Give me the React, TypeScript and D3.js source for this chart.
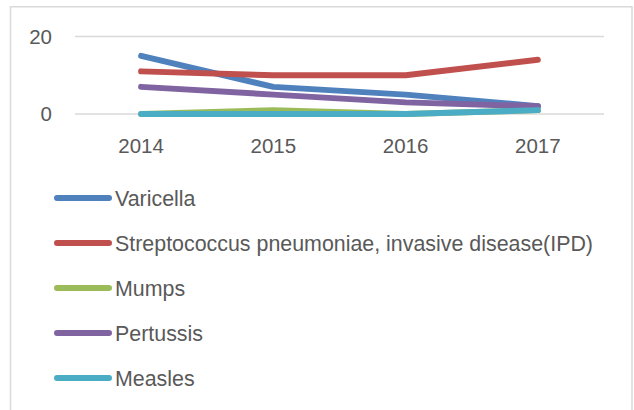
import React from "react";
import * as d3 from "d3";

const years = ["2014", "2015", "2016", "2017"];
const seriesNames = [
  "Varicella",
  "Streptococcus pneumoniae, invasive disease(IPD)",
  "Mumps",
  "Pertussis",
  "Measles",
];
const varicella = [15, 7, 5, 2];
const ipd = [11, 10, 10, 14];
const mumps = [0, 1, 0, 1];
const pertussis = [7, 5, 3, 2];
const measles = [0, 0, 0, 1];
const colors = ["#4F81BD", "#C0504D", "#9BBB59", "#8064A2", "#4BACC6"];
const yTicks = [0, 20];

const W = 634;
const H = 410;
const FONT = "'Liberation Sans', Arial, sans-serif";
const TEXT = "#595959";

export default function App() {
  const seriesValues = [varicella, ipd, mumps, pertussis, measles];
  const x = d3.scaleBand<string>().domain(years).range([75, 604]);
  const y = d3.scaleLinear().domain([0, 20]).range([114, 36.5]);
  const cx = (d: string) => (x(d) as number) + x.bandwidth() / 2;
  const line = d3
    .line<number>()
    .x((_, i) => cx(years[i]))
    .y((v) => y(v));

  const legendY = d3.scalePoint<string>().domain(seriesNames).range([198, 378]);

  return (
    <div style={{ position: "absolute", left: 0, top: 0 }}>
      <svg width={W} height={H} style={{ display: "block", background: "#fff" }}>
        <rect x={10.5} y={6.75} width={621.5} height={430} fill="#fff" stroke="#d9d9d9" strokeWidth={1.5} />
        {yTicks.map((t) => (
          <g key={t}>
            <line x1={75} x2={604} y1={y(t)} y2={y(t)} stroke="#d9d9d9" strokeWidth={1.3} />
            <text
              x={52}
              y={y(t) + 7}
              textAnchor="end"
              fontFamily={FONT}
              fontSize={20.5}
              fill={TEXT}
            >
              {t}
            </text>
          </g>
        ))}
        {years.map((yr) => (
          <text
            key={yr}
            x={cx(yr)}
            y={153}
            textAnchor="middle"
            fontFamily={FONT}
            fontSize={20.5}
            fill={TEXT}
          >
            {yr}
          </text>
        ))}
        {seriesValues.map((vals, i) => (
          <path
            key={seriesNames[i]}
            d={line(vals) || ""}
            fill="none"
            stroke={colors[i]}
            strokeWidth={6}
            strokeLinecap="round"
            strokeLinejoin="round"
          />
        ))}
        {seriesNames.map((name, i) => {
          const ly = legendY(name) as number;
          return (
            <g key={name}>
              <line
                x1={57}
                x2={109}
                y1={ly}
                y2={ly}
                stroke={colors[i]}
                strokeWidth={6}
                strokeLinecap="round"
              />
              <text x={115} y={ly + 7.5} fontFamily={FONT} fontSize={21.4} fill={TEXT}>
                {name}
              </text>
            </g>
          );
        })}
      </svg>
    </div>
  );
}
